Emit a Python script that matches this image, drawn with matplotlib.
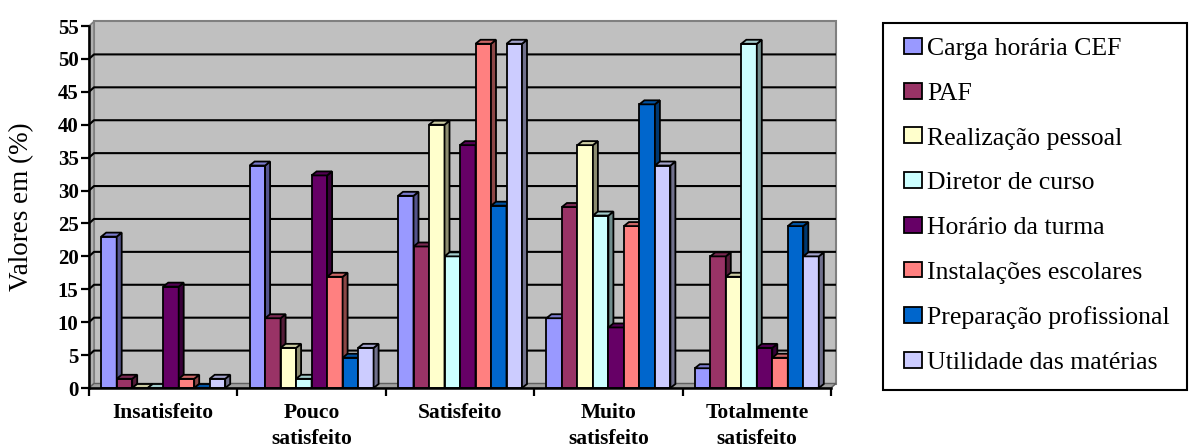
import numpy as np
import matplotlib
matplotlib.use("Agg")
import matplotlib.pyplot as plt
from matplotlib.patches import Polygon, Rectangle
from matplotlib.colors import to_rgb

plt.rcParams["font.family"] = ["Liberation Serif", "DejaVu Serif"]

# ── data (% of respondents) ─────────────────────────────────────────
categories = ["Insatisfeito", "Pouco\nsatisfeito", "Satisfeito",
              "Muito\nsatisfeito", "Totalmente\nsatisfeito"]
series_names = ["Carga horária CEF", "PAF", "Realização pessoal",
                "Diretor de curso", "Horário da turma",
                "Instalações escolares", "Preparação profissional",
                "Utilidade das matérias"]

carga_horaria = [23.0, 33.8, 29.2, 10.6, 3.0]
paf           = [1.4, 10.6, 21.5, 27.5, 20.0]
realizacao    = [0.0, 6.1, 40.0, 36.9, 16.9]
diretor       = [0.0, 1.4, 20.0, 26.2, 52.3]
horario       = [15.4, 32.3, 36.9, 9.2, 6.1]
instalacoes   = [1.4, 16.9, 52.3, 24.6, 4.6]
preparacao    = [0.0, 4.6, 27.7, 43.1, 24.6]
utilidade     = [1.4, 6.1, 52.3, 33.8, 20.0]

series = [carga_horaria, paf, realizacao, diretor, horario,
          instalacoes, preparacao, utilidade]
colors = ["#9999FF", "#993366", "#FFFFCC", "#CCFFFF",
          "#660066", "#FF8080", "#0066CC", "#CCCCFF"]

# ── figure geometry (pixels) ────────────────────────────────────────
W, H = 1189, 448
x0_px, y0_px = 89, 388           # origin of the front axes
ppx = (831 - 89) / 5             # px per category
ppy = (388 - 26) / 55            # px per percent
xmax, ymax = 5.08, 56.0

fig = plt.figure(figsize=(W / 100, H / 100), dpi=100)
ax = fig.add_axes([x0_px / W, (H - y0_px) / H, xmax * ppx / W, ymax * ppy / H])
ax.set_xlim(0, xmax)
ax.set_ylim(0, ymax)
ax.patch.set_visible(False)

# depth offsets in data units
wdx, wdy = 5 / ppx, 4.5 / ppy    # walls
bdx, bdy = 5 / ppx, 4.0 / ppy    # bars

# ── walls, floor, gridlines ─────────────────────────────────────────
ax.add_patch(Polygon([(wdx, wdy), (5 + wdx, wdy), (5 + wdx, 55 + wdy), (wdx, 55 + wdy)],
                     closed=True, fc="#C0C0C0", ec="#808080", lw=1.5, zorder=0, clip_on=False))
ax.add_patch(Polygon([(0, 0), (wdx, wdy), (wdx, 55 + wdy), (0, 55)],
                     closed=True, fc="#B0B0B0", ec="#808080", lw=1.2, zorder=0.5, clip_on=False))
ax.add_patch(Polygon([(0, 0), (wdx, wdy), (5 + wdx, wdy), (5, 0)],
                     closed=True, fc="#A0A0A0", ec="#606060", lw=1.0, zorder=0.6, clip_on=False))

for v in range(5, 55, 5):
    ax.plot([0, wdx, 5 + wdx], [v, v + wdy, v + wdy], color="black", lw=1.5,
            zorder=1, clip_on=False, solid_capstyle="butt")

# ── bars with 3-D side and top faces ────────────────────────────────
n = len(series)
bw = 15.5 / ppx
xc = np.arange(len(categories)) + 0.5
handles = []
for j, (vals, col) in enumerate(zip(series, colors)):
    xs = xc + (j - (n - 1) / 2) * bw
    rgb = np.array(to_rgb(col))
    side = rgb * 0.55
    top = rgb * 0.8
    z = 3 + 2 * j
    bars = ax.bar(xs, vals, width=bw, color=col, edgecolor="black", lw=1.3,
                  zorder=z, clip_on=False, label=series_names[j])
    for r in bars:
        bx, bwid, bh = r.get_x(), r.get_width(), r.get_height()
        ax.add_patch(Polygon([(bx + bwid, 0), (bx + bwid + bdx, bdy),
                              (bx + bwid + bdx, bh + bdy), (bx + bwid, bh)],
                             closed=True, fc=side, ec="black", lw=1.3,
                             zorder=z + 0.5, clip_on=False))
        ax.add_patch(Polygon([(bx, bh), (bx + bdx, bh + bdy),
                              (bx + bwid + bdx, bh + bdy), (bx + bwid, bh)],
                             closed=True, fc=top, ec="black", lw=1.3,
                             zorder=z + 0.5, clip_on=False))
    handles.append(bars)

# ── axes ────────────────────────────────────────────────────────────
for s in ["top", "right"]:
    ax.spines[s].set_visible(False)
ax.spines["left"].set_bounds(0, 55)
ax.spines["bottom"].set_bounds(0, 5)
for s in ["left", "bottom"]:
    ax.spines[s].set_linewidth(1.8)
    ax.spines[s].set_zorder(30)

ax.set_yticks(range(0, 56, 5))
ax.set_yticklabels([str(v) for v in range(0, 56, 5)],
                   fontweight="bold", fontsize=15)
ax.tick_params(axis="y", direction="out", length=6, width=1.6, pad=1.5)

ax.set_xticks(xc)
ax.set_xticklabels(categories, fontweight="bold", fontsize=15.5, linespacing=1.35)
ax.set_xticks(range(0, 6), minor=True)
ax.tick_params(axis="x", which="major", length=0, pad=11)
ax.tick_params(axis="x", which="minor", direction="out", length=6, width=1.6)

fig.text(22 / W, 1 - 207 / H, "Valores em (%)", rotation=90, ha="center",
         va="center", fontsize=19.5)

# ── legend ──────────────────────────────────────────────────────────
fig.patches.append(Rectangle((883 / W, 1 - 390 / H), (1187 - 883) / W, (390 - 23) / H,
                             transform=fig.transFigure, fc="white", ec="black",
                             lw=1.5, zorder=0))
leg = fig.legend([h[0] for h in handles], series_names, loc="center left",
                 bbox_to_anchor=(904 / W, 1 - 206 / H), frameon=False,
                 prop={"size": 18.5},
                 handlelength=0.69, handleheight=0.58, handletextpad=0.22,
                 labelspacing=0.88, borderpad=0.0, borderaxespad=0.0)

fig.savefig("out.png", dpi=100)
